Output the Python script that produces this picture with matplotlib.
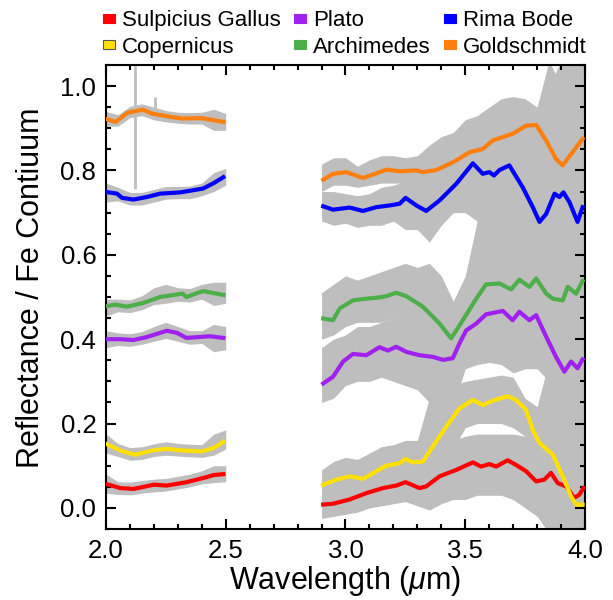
import matplotlib
matplotlib.use("Agg")
import matplotlib.pyplot as plt
import matplotlib.patches as mpatches
from matplotlib.ticker import MultipleLocator, FormatStrFormatter

plt.rcParams['font.family'] = ['Liberation Sans', 'DejaVu Sans']
plt.rcParams['mathtext.fontset'] = 'custom'
plt.rcParams['mathtext.rm'] = 'Liberation Sans'
plt.rcParams['mathtext.it'] = 'Liberation Sans:italic'

# ---- series ----
names = ["Sulpicius Gallus", "Copernicus", "Plato", "Archimedes", "Rima Bode", "Goldschmidt"]
colors = ["#FF0000", "#FFE000", "#A020F0", "#4DAF4A", "#0000FF", "#FF7F0E"]

# short-wavelength segment, smoothed spectra
red_x1 = [2.0, 2.06, 2.115, 2.20, 2.254, 2.336, 2.42, 2.45, 2.49]
red_y1 = [0.057, 0.047, 0.045, 0.055, 0.053, 0.061, 0.073, 0.078, 0.080]
yel_x1 = [2.0, 2.06, 2.12, 2.20, 2.254, 2.32, 2.40, 2.45, 2.49]
yel_y1 = [0.152, 0.136, 0.126, 0.137, 0.140, 0.136, 0.134, 0.142, 0.157]
pur_x1 = [2.0, 2.06, 2.115, 2.17, 2.254, 2.296, 2.336, 2.434, 2.49]
pur_y1 = [0.400, 0.400, 0.398, 0.405, 0.420, 0.415, 0.403, 0.407, 0.403]
grn_x1 = [2.0, 2.038, 2.087, 2.156, 2.226, 2.32, 2.335, 2.405, 2.49]
grn_y1 = [0.478, 0.482, 0.477, 0.486, 0.500, 0.508, 0.500, 0.514, 0.505]
blu_x1 = [2.0, 2.046, 2.067, 2.115, 2.17, 2.226, 2.31, 2.405, 2.45, 2.49]
blu_y1 = [0.749, 0.745, 0.735, 0.731, 0.737, 0.745, 0.748, 0.757, 0.770, 0.784]
org_x1 = [2.0, 2.04, 2.09, 2.155, 2.19, 2.27, 2.32, 2.40, 2.49]
org_y1 = [0.922, 0.915, 0.937, 0.944, 0.935, 0.927, 0.923, 0.924, 0.915]

# long-wavelength segment, smoothed spectra
red_x2 = [2.907, 2.948, 3.017, 3.087, 3.156, 3.212, 3.251, 3.309, 3.337, 3.393, 3.462, 3.532,
          3.566, 3.601, 3.629, 3.677, 3.712, 3.754, 3.796, 3.83, 3.858, 3.886, 3.921, 3.955, 3.976, 3.993]
red_y2 = [0.008, 0.010, 0.020, 0.035, 0.047, 0.053, 0.061, 0.047, 0.051, 0.075, 0.090, 0.108,
          0.098, 0.104, 0.098, 0.113, 0.102, 0.087, 0.063, 0.067, 0.083, 0.059, 0.051, 0.024, 0.031, 0.047]
yel_x2 = [2.907, 2.962, 3.017, 3.073, 3.129, 3.17, 3.226, 3.251, 3.281, 3.323, 3.365, 3.421, 3.476,
          3.532, 3.573, 3.615, 3.677, 3.712, 3.754, 3.782, 3.81, 3.866, 3.907, 3.942, 3.963, 3.99]
yel_y2 = [0.055, 0.067, 0.075, 0.069, 0.087, 0.100, 0.106, 0.116, 0.108, 0.110, 0.146, 0.193, 0.236,
          0.256, 0.244, 0.254, 0.265, 0.256, 0.232, 0.185, 0.154, 0.126, 0.075, 0.027, 0.008, 0.008]
pur_x2 = [2.907, 2.948, 2.99, 3.031, 3.087, 3.142, 3.177, 3.212, 3.254, 3.309, 3.365, 3.407, 3.448,
          3.476, 3.504, 3.546, 3.587, 3.657, 3.698, 3.726, 3.768, 3.796, 3.838, 3.879, 3.914, 3.942, 3.969, 3.99]
pur_y2 = [0.295, 0.311, 0.347, 0.365, 0.362, 0.381, 0.373, 0.382, 0.370, 0.362, 0.358, 0.351, 0.355,
          0.390, 0.421, 0.437, 0.459, 0.467, 0.445, 0.465, 0.445, 0.457, 0.406, 0.358, 0.323, 0.347, 0.331, 0.352]
grn_x2 = [2.907, 2.948, 2.976, 3.031, 3.087, 3.142, 3.17, 3.212, 3.254, 3.323, 3.393, 3.441, 3.49,
          3.546, 3.587, 3.643, 3.691, 3.726, 3.768, 3.796, 3.838, 3.866, 3.907, 3.928, 3.963, 3.99]
grn_y2 = [0.449, 0.445, 0.473, 0.492, 0.496, 0.499, 0.502, 0.510, 0.502, 0.477, 0.437, 0.402, 0.445,
          0.496, 0.530, 0.532, 0.518, 0.541, 0.524, 0.544, 0.508, 0.496, 0.492, 0.524, 0.508, 0.538]
blu_x2 = [2.907, 2.948, 3.017, 3.073, 3.129, 3.184, 3.226, 3.251, 3.296, 3.337, 3.393, 3.462, 3.532,
          3.573, 3.601, 3.62, 3.643, 3.684, 3.74, 3.782, 3.81, 3.838, 3.873, 3.893, 3.91, 3.935, 3.969, 3.99]
blu_y2 = [0.715, 0.707, 0.712, 0.704, 0.713, 0.717, 0.721, 0.735, 0.717, 0.704, 0.729, 0.768, 0.817,
          0.792, 0.796, 0.788, 0.801, 0.812, 0.760, 0.713, 0.678, 0.697, 0.745, 0.737, 0.748, 0.725, 0.678, 0.713]
org_x2 = [2.907, 2.948, 3.004, 3.073, 3.129, 3.171, 3.226, 3.296, 3.323, 3.379, 3.448, 3.518, 3.573,
          3.615, 3.698, 3.754, 3.796, 3.838, 3.879, 3.907, 3.948, 3.99]
org_y2 = [0.778, 0.792, 0.796, 0.782, 0.793, 0.802, 0.798, 0.800, 0.796, 0.801, 0.819, 0.843, 0.851,
          0.871, 0.887, 0.906, 0.908, 0.871, 0.827, 0.812, 0.843, 0.875]

# ---- gray noise envelopes (lower / upper edge of the raw spectra) ----
gray_x1 = [2.00, 2.05, 2.10, 2.15, 2.20, 2.25, 2.30, 2.35, 2.40, 2.45, 2.50]
red_lo1 = [0.035, 0.032, 0.031, 0.035, 0.038, 0.040, 0.045, 0.050, 0.057, 0.060, 0.062]
red_hi1 = [0.080, 0.062, 0.061, 0.065, 0.068, 0.070, 0.075, 0.080, 0.088, 0.100, 0.100]
yel_lo1 = [0.130, 0.122, 0.113, 0.115, 0.122, 0.125, 0.123, 0.121, 0.120, 0.125, 0.140]
yel_hi1 = [0.175, 0.153, 0.143, 0.145, 0.152, 0.157, 0.153, 0.151, 0.150, 0.175, 0.185]
pur_lo1 = [0.380, 0.385, 0.383, 0.388, 0.395, 0.402, 0.395, 0.388, 0.390, 0.370, 0.375]
pur_hi1 = [0.420, 0.415, 0.413, 0.418, 0.430, 0.440, 0.430, 0.420, 0.420, 0.435, 0.430]
grn_lo1 = [0.455, 0.465, 0.463, 0.470, 0.482, 0.485, 0.490, 0.488, 0.495, 0.480, 0.485]
grn_hi1 = [0.495, 0.495, 0.493, 0.503, 0.522, 0.530, 0.522, 0.520, 0.530, 0.535, 0.535]
blu_lo1 = [0.725, 0.728, 0.718, 0.718, 0.725, 0.732, 0.733, 0.733, 0.740, 0.750, 0.765]
blu_hi1 = [0.770, 0.760, 0.748, 0.748, 0.755, 0.762, 0.762, 0.763, 0.770, 0.795, 0.805]
org_lo1 = [0.905, 0.905, 0.925, 0.930, 0.920, 0.915, 0.912, 0.910, 0.910, 0.895, 0.895]
org_hi1 = [0.940, 0.932, 0.952, 0.958, 0.950, 0.942, 0.938, 0.937, 0.938, 0.945, 0.935]

gray_x2 = [2.90, 2.95, 3.00, 3.05, 3.10, 3.15, 3.20, 3.25, 3.30, 3.35, 3.40, 3.45,
           3.50, 3.55, 3.60, 3.65, 3.70, 3.75, 3.80, 3.85, 3.90, 3.95, 4.00]
red_lo2 = [-0.025, -0.02, -0.015, -0.01, 0.0, 0.005, 0.01, 0.015, 0.005, -0.005, 0.01, 0.02,
           0.02, 0.03, 0.03, 0.03, 0.02, 0.0, -0.02, -0.06, -0.06, -0.06, -0.06]
red_hi2 = [0.04, 0.045, 0.05, 0.06, 0.075, 0.085, 0.09, 0.10, 0.10, 0.12, 0.15, 0.16,
           0.17, 0.175, 0.175, 0.175, 0.175, 0.17, 0.15, 0.15, 0.13, 0.12, 0.12]
yel_lo2 = [0.03, 0.04, 0.045, 0.045, 0.05, 0.06, 0.07, 0.075, 0.06, 0.08, 0.10, 0.14,
           0.19, 0.20, 0.20, 0.20, 0.19, 0.17, 0.10, 0.05, 0.0, -0.05, -0.05]
yel_hi2 = [0.09, 0.11, 0.12, 0.115, 0.13, 0.145, 0.15, 0.16, 0.16, 0.26, 0.28, 0.29,
           0.30, 0.305, 0.31, 0.315, 0.31, 0.26, 0.24, 0.35, 0.30, 0.30, 0.30]
pur_lo2 = [0.25, 0.26, 0.29, 0.30, 0.30, 0.31, 0.30, 0.29, 0.28, 0.25, 0.22, 0.24,
           0.33, 0.34, 0.345, 0.34, 0.32, 0.33, 0.33, 0.30, 0.25, 0.25, 0.25]
pur_hi2 = [0.38, 0.40, 0.41, 0.43, 0.43, 0.44, 0.45, 0.45, 0.44, 0.45, 0.45, 0.45,
           0.50, 0.55, 0.56, 0.56, 0.56, 0.55, 0.55, 0.50, 0.45, 0.45, 0.45]
grn_lo2 = [0.40, 0.41, 0.43, 0.44, 0.44, 0.44, 0.45, 0.44, 0.42, 0.40, 0.37, 0.35,
           0.38, 0.42, 0.45, 0.46, 0.45, 0.45, 0.45, 0.40, 0.40, 0.40, 0.40]
grn_hi2 = [0.51, 0.53, 0.55, 0.54, 0.55, 0.56, 0.57, 0.58, 0.57, 0.58, 0.55, 0.49,
           0.55, 0.68, 0.70, 0.70, 0.70, 0.70, 0.70, 0.70, 0.70, 0.70, 0.70]
blu_lo2 = [0.68, 0.67, 0.675, 0.665, 0.67, 0.67, 0.68, 0.66, 0.66, 0.63, 0.67, 0.70,
           0.70, 0.68, 0.55, 0.50, 0.50, 0.45, 0.40, 0.40, 0.40, 0.40, 0.40]
blu_hi2 = [0.75, 0.75, 0.745, 0.74, 0.745, 0.76, 0.765, 0.775, 0.77, 0.80, 0.84, 0.86,
           0.88, 0.90, 0.90, 0.92, 0.95, 0.95, 0.95, 1.00, 1.06, 1.06, 1.06]
org_lo2 = [0.75, 0.765, 0.765, 0.76, 0.765, 0.77, 0.77, 0.77, 0.765, 0.75, 0.74, 0.74,
           0.76, 0.77, 0.78, 0.79, 0.80, 0.80, 0.75, 0.70, 0.68, 0.70, 0.72]
org_hi2 = [0.815, 0.83, 0.83, 0.81, 0.825, 0.835, 0.835, 0.83, 0.835, 0.86, 0.88, 0.89,
           0.92, 0.93, 0.95, 0.97, 0.975, 0.97, 0.95, 1.06, 1.00, 1.06, 1.06]

# isolated spikes in the raw spectra
spike_x = [2.122, 2.205]
spike_lo = [0.755, 0.925]
spike_hi = [1.06, 0.975]

lines1 = [(red_x1, red_y1), (yel_x1, yel_y1), (pur_x1, pur_y1),
          (grn_x1, grn_y1), (blu_x1, blu_y1), (org_x1, org_y1)]
lines2 = [(red_x2, red_y2), (yel_x2, yel_y2), (pur_x2, pur_y2),
          (grn_x2, grn_y2), (blu_x2, blu_y2), (org_x2, org_y2)]
env1 = [(red_lo1, red_hi1), (yel_lo1, yel_hi1), (pur_lo1, pur_hi1),
        (grn_lo1, grn_hi1), (blu_lo1, blu_hi1), (org_lo1, org_hi1)]
env2 = [(red_lo2, red_hi2), (yel_lo2, yel_hi2), (pur_lo2, pur_hi2),
        (grn_lo2, grn_hi2), (blu_lo2, blu_hi2), (org_lo2, org_hi2)]

gray = "#BEBEBE"

fig = plt.figure(figsize=(6.13, 6.0), dpi=100)
ax = fig.add_axes([0.1729, 0.1183, 0.7814, 0.7734])

# gray raw spectra first
for lo, hi in env1:
    ax.fill_between(gray_x1, lo, hi, color=gray, linewidth=0, zorder=1)
for lo, hi in env2:
    ax.fill_between(gray_x2, lo, hi, color=gray, linewidth=0, zorder=1)
ax.vlines(spike_x, spike_lo, spike_hi, color=gray, linewidth=2, zorder=1)

# smoothed spectra on top
for (x, y), c in zip(lines1, colors):
    ax.plot(x, y, color=c, linewidth=3, solid_joinstyle="round", zorder=3)
for (x, y), c in zip(lines2, colors):
    ax.plot(x, y, color=c, linewidth=3, solid_joinstyle="round", zorder=3)

ax.set_xlim(2.0, 4.0)
ax.set_ylim(-0.05, 1.05)
ax.xaxis.set_major_locator(MultipleLocator(0.5))
ax.xaxis.set_minor_locator(MultipleLocator(0.1))
ax.yaxis.set_major_locator(MultipleLocator(0.2))
ax.yaxis.set_minor_locator(MultipleLocator(0.05))
ax.xaxis.set_major_formatter(FormatStrFormatter("%.1f"))
ax.yaxis.set_major_formatter(FormatStrFormatter("%.1f"))
ax.tick_params(which="both", direction="in", top=True, right=True, width=1.5, labelsize=18.5)
ax.tick_params(which="major", length=7, pad=7)
ax.tick_params(which="minor", length=3.5)
for s in ax.spines.values():
    s.set_linewidth(1.5)

ax.set_xlabel(r"Wavelength ($\mu$m)", fontsize=22, labelpad=1)
ax.set_ylabel("Reflectance / Fe Contiuum", fontsize=22)
ax.yaxis.set_label_coords(-0.125, 0.52)

handles = []
for n, c in zip(names, colors):
    ec = "#555555" if n == "Copernicus" else c
    handles.append(mpatches.Patch(facecolor=c, edgecolor=ec, linewidth=0.8, label=n))
fig.legend(handles=handles, loc="upper left", bbox_to_anchor=(0.168, 0.983), ncol=3,
           frameon=False, fontsize=16, handlelength=0.55, handleheight=0.25,
           handletextpad=0.3, columnspacing=0.6, labelspacing=0.25, borderpad=0,
           borderaxespad=0)

fig.savefig("out.png", dpi=100)
